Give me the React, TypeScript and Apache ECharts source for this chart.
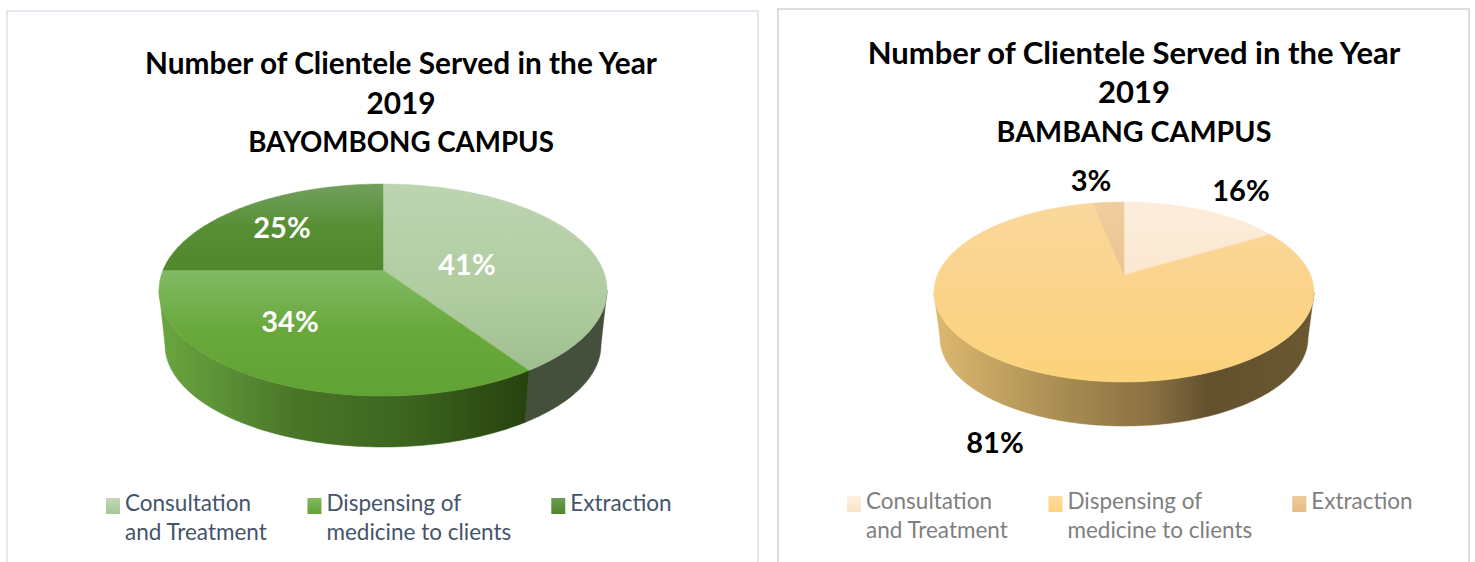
import React, { useEffect, useRef } from "react";
import * as echarts from "echarts";

const categories = ["Consultation\nand Treatment", "Dispensing of\nmedicine to clients", "Extraction"];
const bayombongValues = [41, 34, 25];
const bambangValues = [16, 81, 3];
const titleHead = ["Number of Clientele Served in the Year", "2019"];
const bayombongCampus = "BAYOMBONG CAMPUS";
const bambangCampus = "BAMBANG CAMPUS";

type Stops = [number, string][];
type PieConfig = {
  cx: number; cy: number; rx: number; ry: number; // top ellipse
  ax: number; ay: number; // apex
  bcy: number; brx: number; bry: number; // bottom ellipse
  top: Stops[]; legendColors: [string, string][];
  side: Stops[];
  labelPos: [number, number][]; labelColor: string;
};

const FONT = "Lato, 'Noto Sans', sans-serif";
const RATIO = 2.29;
const LEGEND_ITEM_H = 38;
const LEGEND_ICON_H = 16;
const LEGEND_ICON = `path://M0 0H14V${LEGEND_ICON_H}H0Z M0 ${LEGEND_ITEM_H}L14 ${LEGEND_ITEM_H}`;

const leftCfg: PieConfig = {
  cx: 383, cy: 290, rx: 224, ry: 106, ax: 383, ay: 270, bcy: 345, brx: 218, bry: 102,
  top: [
    [[0, "#BDD4B1"], [0.55, "#AFCC9F"], [1, "#9ABA8B"]],
    [[0, "#86BC6A"], [0.4, "#83BA66"], [0.68, "#69A93C"], [1, "#61A235"]],
    [[0, "#72A05E"], [0.2, "#578F34"], [0.45, "#4F852B"], [1, "#4F852B"]],
  ],
  legendColors: [["#C2D8B6", "#A6C697"], ["#82BA63", "#62A335"], ["#6D9C59", "#4F852B"]],
  side: [
    [[0, "#3E4C38"], [1, "#44503C"]],
    [[0, "#6BA63F"], [0.12, "#5D9438"], [0.3, "#4A7628"], [0.55, "#3C651F"], [0.82, "#27420F"], [1, "#27420F"]],
    [[0, "#4F852B"], [1, "#4F852B"]],
  ],
  labelPos: [[467, 263], [290, 320], [282, 226]],
  labelColor: "#FFFFFF",
};

const rightCfg: PieConfig = {
  cx: 1124, cy: 292, rx: 190, ry: 90, ax: 1124, ay: 275, bcy: 338, brx: 184, bry: 88,
  top: [
    [[0, "#FCEDDB"], [1, "#F9E0C1"]],
    [[0, "#FAD79C"], [0.5, "#FBD48B"], [1, "#FCD27A"]],
    [[0, "#EFCD9F"], [1, "#E3B983"]],
  ],
  legendColors: [["#FEF1E0", "#FBE3C6"], ["#FCDB9E", "#FCD27B"], ["#EFCB9B", "#E5BC84"]],
  side: [
    [[0, "#6A5831"], [1, "#6A5831"]],
    [[0, "#DDB970"], [0.33, "#A98D52"], [0.57, "#8B7142"], [0.72, "#63512E"], [1, "#6A5831"]],
    [[0, "#E3B983"], [1, "#E3B983"]],
  ],
  labelPos: [[1241, 189], [995, 441], [1091, 179]],
  labelColor: "#000000",
};

const rayPhi = (c: PieConfig, thetaDeg: number) => {
  const t = (thetaDeg * Math.PI) / 180;
  const dx = Math.sin(t) * RATIO;
  const dy = -Math.cos(t);
  const ox = (c.ax - c.cx) / c.rx, oy = (c.ay - c.cy) / c.ry;
  const ux = dx / c.rx, uy = dy / c.ry;
  const A = ux * ux + uy * uy, B = 2 * (ox * ux + oy * uy), C = ox * ox + oy * oy - 1;
  const s = (-B + Math.sqrt(B * B - 4 * A * C)) / (2 * A);
  return Math.atan2(oy + s * uy, ox + s * ux);
};

const sampleAngles = (a: number, b: number) => {
  const out: number[] = [];
  const n = Math.max(2, Math.ceil(Math.abs(b - a) / (Math.PI / 180)));
  for (let i = 0; i <= n; i++) out.push(a + ((b - a) * i) / n);
  return out;
};

const makeSeries = (values: number[], c: PieConfig) => {
  const total = values.reduce((s, v) => s + v, 0);
  let acc = 0;
  return values.map((v, i) => {
    const startDeg = (acc / total) * 360;
    acc += v;
    const endDeg = (acc / total) * 360;
    return {
      type: "custom",
      name: categories[i],
      coordinateSystem: "none",
      silent: true,
      data: [[v]],
      itemStyle: { color: c.legendColors[i][1] },
      renderItem: (_p: any, api: any) => {
        const value = api.value(0);
        let p1 = rayPhi(c, startDeg);
        let p2 = rayPhi(c, endDeg);
        if (startDeg === 0) p1 = -Math.PI / 2;
        while (p2 <= p1) p2 += 2 * Math.PI;
        const children: any[] = [];
        [0, 2 * Math.PI, -2 * Math.PI].forEach((shift) => {
          const lo = Math.max(p1, shift);
          const hi = Math.min(p2, shift + Math.PI);
          if (hi > lo) {
            const arc = sampleAngles(lo, hi);
            const pts: number[][] = arc.map((f) => [c.cx + c.rx * Math.cos(f), c.cy + c.ry * Math.sin(f)]);
            arc.slice().reverse().forEach((f) => pts.push([c.cx + c.brx * Math.cos(f), c.bcy + c.bry * Math.sin(f)]));
            const fill = new echarts.graphic.LinearGradient(c.cx - c.rx, 0, c.cx + c.rx, 0,
              c.side[i].map(([offset, color]) => ({ offset, color })), true);
            children.push({ type: "polygon", shape: { points: pts }, style: { fill, stroke: fill, lineWidth: 0.5 } });
          }
        });
        const topPts: number[][] = [[c.ax, c.ay]];
        sampleAngles(p1, p2).forEach((f) => topPts.push([c.cx + c.rx * Math.cos(f), c.cy + c.ry * Math.sin(f)]));
        const topFill = new echarts.graphic.LinearGradient(0, c.cy - c.ry, 0, c.cy + c.ry,
          c.top[i].map(([offset, color]) => ({ offset, color })), true);
        children.push({ type: "polygon", shape: { points: topPts }, style: { fill: topFill, stroke: topFill, lineWidth: 0.5 } });
        children.push({
          type: "text", z2: 10,
          style: {
            text: `${value}%`, x: c.labelPos[i][0], y: c.labelPos[i][1], fill: c.labelColor,
            font: `bold 29px ${FONT}`, align: "center", verticalAlign: "middle",
          },
        });
        return { type: "group", children };
      },
    };
  });
};

const makeLegend = (c: PieConfig, left: number, top: number, color: string) => {
  const textStyle = { color, fontFamily: FONT, fontSize: 22.5, lineHeight: 29 };
  return {
    left, top, orient: "horizontal", itemWidth: 14, itemHeight: LEGEND_ITEM_H, itemGap: 40, selectedMode: false,
    padding: 0, icon: LEGEND_ICON, textStyle,
    formatter: (name: string) => (name.includes("\n") ? name : `${name}\n `),
    data: categories.map((name, i) => ({
      name, icon: LEGEND_ICON,
      itemStyle: {
        color: new echarts.graphic.LinearGradient(0, 0, 0, 1, [
          { offset: 0, color: c.legendColors[i][0] },
          { offset: LEGEND_ICON_H / LEGEND_ITEM_H, color: c.legendColors[i][1] },
          { offset: 1, color: c.legendColors[i][1] },
        ]),
      },
      textStyle,
    })),
  };
};

const makeTitle = (campus: string, x: number, top: number, headSize: number, campusSize: number) => ({
  text: [...titleHead.map((t) => `{a|${t}}`), `{b|${campus}}`].join("\n"),
  left: x, top, textAlign: "center", padding: 0,
  textStyle: {
    color: "#000000", fontFamily: FONT, fontWeight: "bold", fontSize: headSize, lineHeight: 39.5,
    rich: {
      a: { color: "#000000", fontFamily: FONT, fontWeight: "bold", fontSize: headSize, lineHeight: 39.5 },
      b: { color: "#000000", fontFamily: FONT, fontWeight: "bold", fontSize: campusSize, lineHeight: 39.5 },
    },
  },
});

export default function App() {
  const ref = useRef<HTMLDivElement>(null);
  useEffect(() => {
    const chart = echarts.init(ref.current!, undefined, { renderer: "svg" });
    chart.setOption({
      animation: false,
      backgroundColor: "#FFFFFF",
      title: [makeTitle(bayombongCampus, 401, 43, 29.8, 27.7), makeTitle(bambangCampus, 1134, 32, 31, 28.7)],
      legend: [makeLegend(leftCfg, 106, 488, "#44546A"), makeLegend(rightCfg, 847, 486, "#7F7F7F")],
      graphic: [
        { type: "rect", silent: true, z: -1, shape: { x: 7, y: 11, width: 751, height: 600 }, style: { fill: "none", stroke: "#E3E7EE", lineWidth: 2 } },
        { type: "rect", silent: true, z: -1, shape: { x: 778, y: 9, width: 691, height: 600 }, style: { fill: "none", stroke: "#DDDDDD", lineWidth: 2 } },
      ],
      series: [...makeSeries(bayombongValues, leftCfg), ...makeSeries(bambangValues, rightCfg)],
    });
    return () => chart.dispose();
  }, []);
  return <div ref={ref} style={{ position: "absolute", left: 0, top: 0, width: 1475, height: 562, overflow: "hidden" }} />;
}
